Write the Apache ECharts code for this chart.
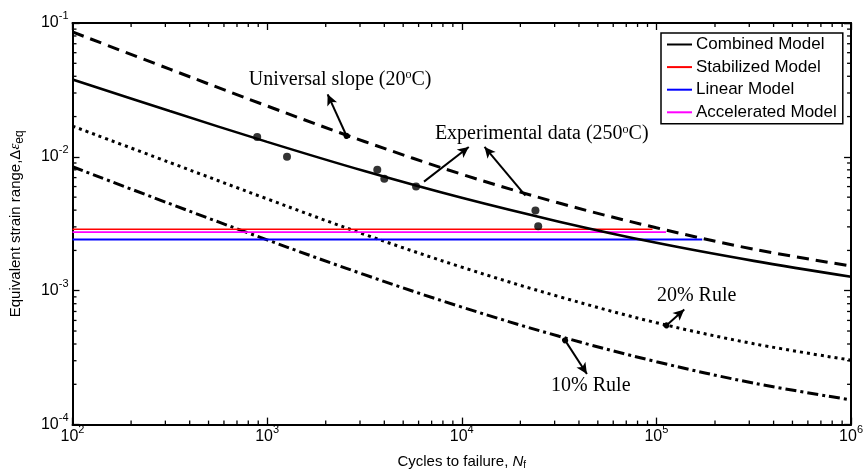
<!DOCTYPE html>
<html><head><meta charset="utf-8">
<script src="https://cdn.jsdelivr.net/npm/echarts@6/dist/echarts.min.js"></script>
<style>html,body{margin:0;padding:0;background:#fff}#c{width:866px;height:475px}</style>
</head><body><div id="c"></div>
<script>
// ---- axis ranges / ticks ----
const xMin = 1e2, xMax = 1e6;
const yMin = 1e-4, yMax = 1e-1;
const xMajorTicks = [1e2, 1e3, 1e4, 1e5, 1e6];
const yMajorTicks = [1e-4, 1e-3, 1e-2, 1e-1];
const xMinorTicks = [];
for (let e = 2; e < 6; e++) for (let k = 2; k <= 9; k++) xMinorTicks.push(k * Math.pow(10, e));
const yMinorTicks = [];
for (let e = -4; e < -1; e++) for (let k = 2; k <= 9; k++) yMinorTicks.push(k * Math.pow(10, e));

// ---- curves ----
const cycles = [100, 316, 1000, 3162, 10000, 31623, 100000, 316228, 1000000];
const combinedModel = [0.03784, 0.02198, 0.01294, 0.007834, 0.004943, 0.003281, 0.002280, 0.001671, 0.001271];
const universalSlope = [0.0857, 0.04519, 0.02399, 0.01303, 0.007413, 0.004519, 0.002951, 0.002042, 0.001531];
const rule20 = [0.01698, 0.009078, 0.004853, 0.002636, 0.0015, 0.0009036, 0.0005768, 0.0004018, 0.000303];
const rule10 = [0.008433, 0.004467, 0.002399, 0.001318, 0.000755, 0.000457, 0.000295, 0.000204, 0.000153];

// horizontal model lines: [startN, endN], level
const stabilizedN = [100, 95500];   const stabilizedLevel = 0.00288;
const acceleratedN = [100, 112000]; const acceleratedLevel = 0.00274;
const linearN = [100, 172000];      const linearLevel = 0.00241;

// experimental data (250 C)
const expN = [889, 1265, 3681, 4000, 5823, 23900, 24700];
const expStrain = [0.01406, 0.0100, 0.00802, 0.00687, 0.0060, 0.00398, 0.00303];

// annotations
const annoTexts = ['Universal slope (20|C)', 'Experimental data (250|C)', '20% Rule', '10% Rule'];
const annoN = [2371, 25760, 161000, 46030];
const annoStrain = [0.0378, 0.01481, 0.000918, 0.000194];
// arrows
const arrowTailN = [2560, 6397, 21230, 112500, 33960];
const arrowTailStrain = [0.01432, 0.00653, 0.00514, 0.000551, 0.000426];
const arrowHeadN = [2046, 10860, 13090, 139000, 43950];
const arrowHeadStrain = [0.0293, 0.01186, 0.01186, 0.000723, 0.000239];
const arrowTailDot = [true, false, false, true, true];

const zip = (xs, ys) => xs.map((x, i) => [x, ys[i]]);
const serif = 'Liberation Serif';
const sans = 'Liberation Sans';
const minorLen = 4;

function annoLabel(t) {
  if (t.indexOf('|') < 0) return '{t|' + t + '}';
  const p = t.split('|');
  return '{t|' + p[0] + '}{o|o}{t|' + p[1] + '}';
}

function xMinorRender(params, api) {
  const v = api.value(0);
  const b = api.coord([v, yMin]);
  const t = api.coord([v, yMax]);
  return { type: 'group', children: [
    { type: 'line', shape: { x1: b[0], y1: b[1], x2: b[0], y2: b[1] - minorLen }, style: { stroke: '#000', lineWidth: 1.3 } },
    { type: 'line', shape: { x1: t[0], y1: t[1], x2: t[0], y2: t[1] + minorLen }, style: { stroke: '#000', lineWidth: 1.3 } }
  ]};
}
function yMinorRender(params, api) {
  const v = api.value(1);
  const l = api.coord([xMin, v]);
  const r = api.coord([xMax, v]);
  return { type: 'group', children: [
    { type: 'line', shape: { x1: l[0], y1: l[1], x2: l[0] + minorLen, y2: l[1] }, style: { stroke: '#000', lineWidth: 1.3 } },
    { type: 'line', shape: { x1: r[0], y1: r[1], x2: r[0] - minorLen, y2: r[1] }, style: { stroke: '#000', lineWidth: 1.3 } }
  ]};
}

const expLabelRich = {
  b: { fontSize: 16, fontFamily: sans, color: '#000' },
  s: { fontSize: 11, fontFamily: sans, color: '#000', lineHeight: 11, padding: [0, 0, 14, 0] }
};
const expFormatter = v => '{b|10}{s|' + Math.round(Math.log10(v)) + '}';

const axisCommon = {
  type: 'log', logBase: 10,
  axisLine: { show: true, onZero: false, lineStyle: { color: '#000', width: 2 } },
  axisTick: { show: true, inside: true, length: 7, lineStyle: { color: '#000', width: 1.3 } },
  splitLine: { show: false },
  minorTick: { show: false },
  minorSplitLine: { show: false }
};

const chart = echarts.init(document.getElementById('c'), null, { renderer: 'canvas' });

const lineSeries = (name, data, color, width, type, z) => ({
  name, type: 'line', data, showSymbol: false, symbol: 'none', smooth: 0.35,
  itemStyle: { color }, lineStyle: { color, width, type, cap: 'butt' },
  emphasis: { disabled: true }, animation: false, z: z || 2
});

chart.setOption({
  animation: false,
  textStyle: { color: '#000', fontFamily: sans },
  grid: { left: 69, right: 13, top: 23, bottom: 47 },
  legend: {
    data: ['Combined Model', 'Stabilized Model', 'Linear Model', 'Accelerated Model'],
    orient: 'vertical', left: 661, top: 33,
    icon: 'rect', itemWidth: 25, itemHeight: 2, itemGap: 5.6,
    padding: [3, 6, 3, 6],
    backgroundColor: '#fff', borderColor: '#000', borderWidth: 1.5, borderRadius: 0,
    textStyle: { fontSize: 17, fontFamily: sans, color: '#000', padding: [0, 0, 0, -1] },
    itemTextGap: 4, selectedMode: false, z: 10
  },
  xAxis: [
    Object.assign({}, axisCommon, {
      position: 'bottom', min: xMin, max: xMax, interval: 1, splitNumber: 4,
      axisLabel: { margin: 4, formatter: expFormatter, rich: expLabelRich },
      name: '{t|Cycles to failure, }{n|N}{f|f}', nameLocation: 'middle', nameGap: 27,
      nameTextStyle: { rich: {
        t: { fontSize: 15, fontFamily: sans, color: '#000' },
        n: { fontSize: 15, fontFamily: sans, fontStyle: 'italic', color: '#000' },
        f: { fontSize: 10, fontFamily: sans, color: '#000', padding: [7, 0, 0, 0] }
      } }
    }),
    Object.assign({}, axisCommon, {
      position: 'top', min: xMin, max: xMax, interval: 1, splitNumber: 4,
      axisLabel: { show: false }
    })
  ],
  yAxis: [
    Object.assign({}, axisCommon, {
      position: 'left', min: yMin, max: yMax, interval: 1, splitNumber: 3,
      axisLabel: { margin: 4, formatter: expFormatter, rich: expLabelRich },
      name: '{t|Equivalent strain range,Δ}{e|ε}{q|eq}', nameLocation: 'middle', nameGap: 47, nameRotate: 90,
      nameTextStyle: { rich: {
        t: { fontSize: 15, fontFamily: sans, color: '#000' },
        e: { fontSize: 15, fontFamily: serif, fontStyle: 'italic', color: '#000' },
        q: { fontSize: 12, fontFamily: sans, color: '#000', padding: [8, 0, 0, 0] }
      } }
    }),
    Object.assign({}, axisCommon, {
      position: 'right', min: yMin, max: yMax, interval: 1, splitNumber: 3,
      axisLabel: { show: false }
    })
  ],
  series: [
    { name: 'xMinor', type: 'custom', renderItem: xMinorRender, data: xMinorTicks.map(v => [v, yMin]), clip: false, silent: true, z: 5 },
    { name: 'yMinor', type: 'custom', renderItem: yMinorRender, data: yMinorTicks.map(v => [xMin, v]), clip: false, silent: true, z: 5 },
    lineSeries('Universal slope', zip(cycles, universalSlope), '#000', 3, [12, 7]),
    lineSeries('20% Rule', zip(cycles, rule20), '#000', 3, [3, 4]),
    lineSeries('10% Rule', zip(cycles, rule10), '#000', 3, [11, 4, 3, 4]),
    Object.assign(lineSeries('Stabilized Model', zip(stabilizedN, [stabilizedLevel, stabilizedLevel]), '#ff0000', 1.6, 'solid', 3), { smooth: false }),
    Object.assign(lineSeries('Accelerated Model', zip(acceleratedN, [acceleratedLevel, acceleratedLevel]), '#ff00ff', 1.6, 'solid', 3), { smooth: false }),
    Object.assign(lineSeries('Linear Model', zip(linearN, [linearLevel, linearLevel]), '#0000ff', 2, 'solid', 3), { smooth: false }),
    lineSeries('Combined Model', zip(cycles, combinedModel), '#000', 2.6, 'solid', 4),
    {
      name: 'Experimental data', type: 'scatter', data: zip(expN, expStrain),
      symbol: 'circle', symbolSize: 8, itemStyle: { color: '#000' }, z: 6,
      emphasis: { disabled: true }, animation: false
    },
    {
      name: 'annotations', type: 'scatter', data: [], z: 7, silent: true, animation: false,
      markPoint: {
        symbol: 'circle', symbolSize: 0, animation: false,
        data: annoTexts.map((t, i) => ({
          coord: [annoN[i], annoStrain[i]],
          label: {
            show: true, position: 'inside', formatter: annoLabel(t),
            rich: {
              t: { fontSize: 20, fontFamily: serif, color: '#000' },
              o: { fontSize: 12, fontFamily: serif, color: '#000', padding: [0, 0, 9, 0] }
            }
          }
        }))
      },
      markLine: {
        silent: true, animation: false, precision: 10,
        lineStyle: { color: '#000', width: 2, type: 'solid' },
        label: { show: false },
        emphasis: { disabled: true },
        data: arrowTailN.map((n, i) => ([
          { coord: [n, arrowTailStrain[i]], symbol: arrowTailDot[i] ? 'circle' : 'none', symbolSize: 6 },
          { coord: [arrowHeadN[i], arrowHeadStrain[i]], symbol: 'arrow', symbolSize: [8, 11] }
        ]))
      }
    }
  ]
});
</script>
</body></html>
